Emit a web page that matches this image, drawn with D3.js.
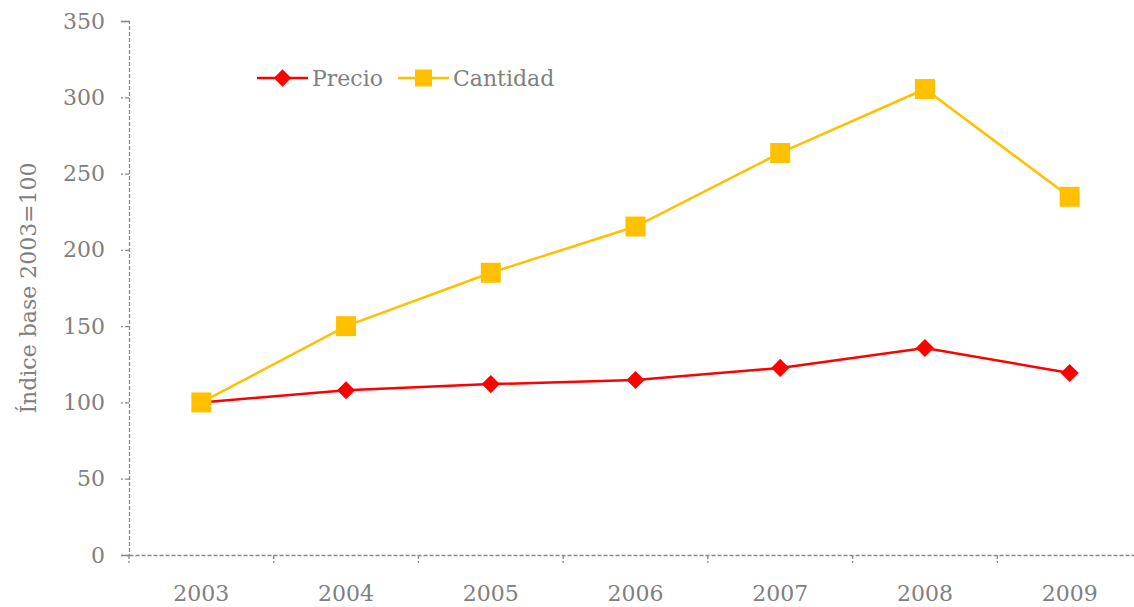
<!DOCTYPE html>
<html><head><meta charset="utf-8">
<script src="https://cdn.jsdelivr.net/npm/d3@7"></script>
<style>
body{margin:0;background:#fff;}
text{font-family:Georgia,"DejaVu Serif",serif;fill:#808080;}
</style></head><body>
<svg id="c" width="1134" height="607"></svg>
<script>
const years = ["2003","2004","2005","2006","2007","2008","2009"];
const precio = [100, 108, 112, 114.7, 122.6, 135.7, 119.3];
const cantidad = [100, 150, 185, 215.3, 263.5, 305.4, 234.8];
const yTicks = [0,50,100,150,200,250,300,350];
const seriesNames = ["Precio","Cantidad"];

(function(){
const svg = d3.select("#c");
const mL = 129, mR = 1142, mT = 21, mB = 555;
const x = d3.scaleBand().domain(years).range([mL,mR]);
const y = d3.scaleLinear().domain([0,350]).range([mB,mT]);
const axisColor = "#888";
const fs = "22px";

// y axis
const ya = svg.append("g").attr("transform",`translate(${mL},0)`)
  .call(d3.axisLeft(y).tickValues(yTicks).tickSize(8).tickPadding(16).tickFormat(d3.format("d")));
ya.select(".domain").attr("stroke",axisColor).attr("stroke-dasharray","4,2").attr("stroke-width",1.3);
ya.selectAll(".tick line").attr("stroke",axisColor).attr("stroke-dasharray","4,2").attr("stroke-width",1.3);
ya.selectAll(".tick text").style("font-size",fs).attr("fill","#808080");

// x axis
const xa = svg.append("g").attr("transform",`translate(0,${mB})`)
  .call(d3.axisBottom(x).tickSize(0).tickPadding(30));
xa.select(".domain").attr("stroke",axisColor).attr("stroke-dasharray","4,2").attr("stroke-width",1.3);
xa.selectAll(".tick text").style("font-size",fs).attr("fill","#808080");
xa.selectAll("line.bt").data(years).enter().append("line").attr("class","bt")
  .attr("x1",d=>x(d)).attr("x2",d=>x(d)).attr("y1",0).attr("y2",8)
  .attr("stroke",axisColor).attr("stroke-dasharray","4,2").attr("stroke-width",1.3);

// y label
svg.append("text").attr("transform","translate(36,288) rotate(-90)")
  .attr("text-anchor","middle").style("font-size",fs).text("Índice base 2003=100");

const cx = d => x(d)+x.bandwidth()/2;
const line = d3.line().x((d,i)=>cx(years[i])).y(d=>y(d));
const colors = ["#ff0000","#ffc000"];

const sqPath = d3.symbol().type(d3.symbolSquare).size(400)();
const dmPath = d3.symbol().type(d3.symbolSquare).size(165)();
const sqLeg = d3.symbol().type(d3.symbolSquare).size(290)();
const dmLeg = d3.symbol().type(d3.symbolSquare).size(150)();

svg.append("path").datum(precio).attr("d",line).attr("fill","none").attr("stroke",colors[0]).attr("stroke-width",2.5);
svg.selectAll("path.p").data(precio).enter().append("path").attr("class","p")
  .attr("d",dmPath).attr("transform",(d,i)=>`translate(${cx(years[i])},${y(d)}) rotate(45)`).attr("fill",colors[0]);

svg.append("path").datum(cantidad).attr("d",line).attr("fill","none").attr("stroke",colors[1]).attr("stroke-width",2.5);
svg.selectAll("path.q").data(cantidad).enter().append("path").attr("class","q")
  .attr("d",sqPath).attr("transform",(d,i)=>`translate(${cx(years[i])},${y(d)})`).attr("fill",colors[1]);

// legend
const items = [{x:257, sym:dmLeg, rot:45, c:colors[0], n:seriesNames[0]},{x:398, sym:sqLeg, rot:0, c:colors[1], n:seriesNames[1]}];
items.forEach(it=>{
  svg.append("line").attr("x1",it.x).attr("x2",it.x+51).attr("y1",78).attr("y2",78).attr("stroke",it.c).attr("stroke-width",2.5);
  svg.append("path").attr("d",it.sym).attr("transform",`translate(${it.x+25.5},78) rotate(${it.rot})`).attr("fill",it.c);
  svg.append("text").attr("x",it.x+55).attr("y",86).style("font-size",fs).text(it.n);
});
})();
</script></body></html>
